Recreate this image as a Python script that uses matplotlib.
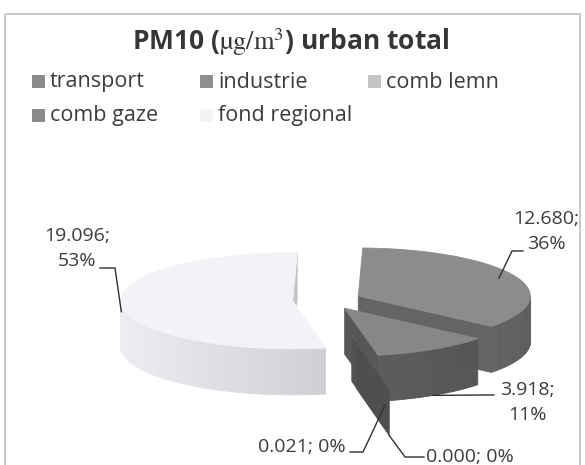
import numpy as np
import matplotlib
matplotlib.use("Agg")
import matplotlib.pyplot as plt
from matplotlib.patches import Polygon, Rectangle
from matplotlib.colors import to_rgb

plt.rcParams['mathtext.fontset'] = 'stix'

# ---------------- data ----------------
categories = ["transport", "industrie", "comb lemn", "comb gaze", "fond regional"]
values = [12.680, 3.918, 0.021, 0.000, 19.096]
title = "PM10 ($\\mathrm{µg/m}^{3}$) urban total"

# ---------------- style ----------------
top_colors = ["#8c8c8c", "#878787", "#5e5e5e", "#5a5a5a", "#f3f3f7"]
side_colors = ["#6c6c6c", "#5e5e5e", "#585858", "#555555", "#d3d3d9"]
legend_colors = ["#8a8a8a", "#8e8e8e", "#c4c4c4", "#8a8a8a", "#f4f4f6"]
explode = [0.20, 0.20, 0.75, 0.90, 0.20]
anchor_dz = [0.0, 1.0, 0.5, 1.0, 0.15]
txt_color = "#3c3c3c"
FONT = "Open Sans"

W, H = 585, 465
fig = plt.figure(figsize=(5.85, 4.65), dpi=100)
ax = fig.add_axes([0, 0, 1, 1])
ax.set_xlim(0, W)
ax.set_ylim(H, 0)
ax.axis('off')

# chart frame
ax.add_patch(Rectangle((5, 14), 575, 470, fill=False, ec="#c4c4c4", lw=1.3))

# title
ax.text(291, 42, title, ha='center', va='center', fontsize=19,
        fontweight='bold', color="#363636", family=FONT)

# legend
leg_pos = [(32, 82), (200, 82), (368, 82), (32, 115), (200, 115)]
for (lx, ly), name, col in zip(leg_pos, categories, legend_colors):
    ax.add_patch(Rectangle((lx, ly - 6.5), 13, 13, fc=col, ec='none'))
    ax.text(lx + 18, ly, name, ha='left', va='center', fontsize=15.5,
            color=txt_color, family=FONT)

# ---------------- 3D pie ----------------
cx, cy = 327, 300
rx, ry, depth = 172, 48, 46
start = 1.5
total = sum(values)
angles = start + np.concatenate([[0], np.cumsum(values) / total * 360.0])


def pt(c, th, dz=0.0, r=1.0):
    t = np.radians(th)
    return (c[0] + r * rx * np.sin(t), c[1] - r * ry * np.cos(t) + dz)


def shade(col, f):
    r, g, b = to_rgb(col)
    return tuple(min(1, max(0, v * f)) for v in (r, g, b))


slices = []
for i, v in enumerate(values):
    th1, th2 = angles[i], angles[i + 1]
    mid = (th1 + th2) / 2
    m = np.radians(mid)
    c = (cx + explode[i] * rx * np.sin(m), cy - explode[i] * ry * np.cos(m))
    slices.append((c[1], i, th1, th2, mid, c))

anchors = {}
for _, i, th1, th2, mid, c in sorted(slices):
    z = 10 + i
    # radial faces
    for th, vis in ((th1, np.sin(np.radians(th1)) < 0), (th2, np.sin(np.radians(th2)) > 0)):
        if vis:
            p = pt(c, th)
            poly = [c, p, (p[0], p[1] + depth), (c[0], c[1] + depth)]
            col = shade(side_colors[i], 0.93)
            ax.add_patch(Polygon(poly, closed=True, fc=col, ec=col, lw=0.6, zorder=z))
    # outer wall (front part)
    lo, hi = max(th1, 90), min(th2, 270)
    if hi > lo:
        seg = np.linspace(lo, hi, max(2, int(hi - lo) + 1))
        for a, b in zip(seg[:-1], seg[1:]):
            f = 1.0 - 0.12 * np.sin(np.radians((a + b) / 2))
            col = shade(side_colors[i], f)
            pa, pb = pt(c, a), pt(c, b)
            poly = [pa, pb, (pb[0], pb[1] + depth), (pa[0], pa[1] + depth)]
            ax.add_patch(Polygon(poly, closed=True, fc=col, ec=col, lw=0.6, zorder=z + 0.1))
    # top face
    arc = np.linspace(th1, th2, max(2, int((th2 - th1) * 2) + 2))
    poly = [c] + [pt(c, a) for a in arc]
    ax.add_patch(Polygon(poly, closed=True, fc=top_colors[i], ec=top_colors[i],
                         lw=0.6, zorder=z + 0.2))
    rr = 0.9 if anchor_dz[i] == 0 else 1.0
    anchors[i] = pt(c, mid, anchor_dz[i] * depth, rr)

# ---------------- labels ----------------
label_pos = [(546, 231), (527, 402), (302, 447), (470, 457), (77, 248)]
two_line = [True, True, False, False, True]
# leader: (point at text, elbow point)
leader = [((523, 251), (512, 251)),
          ((494, 395), (480, 395)),
          ((350, 452), (363, 452)),
          ((424, 457), (405, 457)),
          ((100, 268), (115, 268))]

for i, v in enumerate(values):
    pct = v / total * 100
    sep = "\n" if two_line[i] else " "
    lab = f"{v:.3f};{sep}{pct:.0f}%"
    ax.text(label_pos[i][0], label_pos[i][1], lab, ha='center', va='center',
            fontsize=14, color=txt_color, family=FONT, linespacing=1.5, zorder=30)
    (tx, ty), (ex, ey) = leader[i]
    ax_, ay_ = anchors[i]
    ax.plot([tx, ex, ax_], [ty, ey, ay_], color="#303030", lw=1.0, zorder=29,
            solid_joinstyle='miter')

fig.savefig("out.png", dpi=100)
